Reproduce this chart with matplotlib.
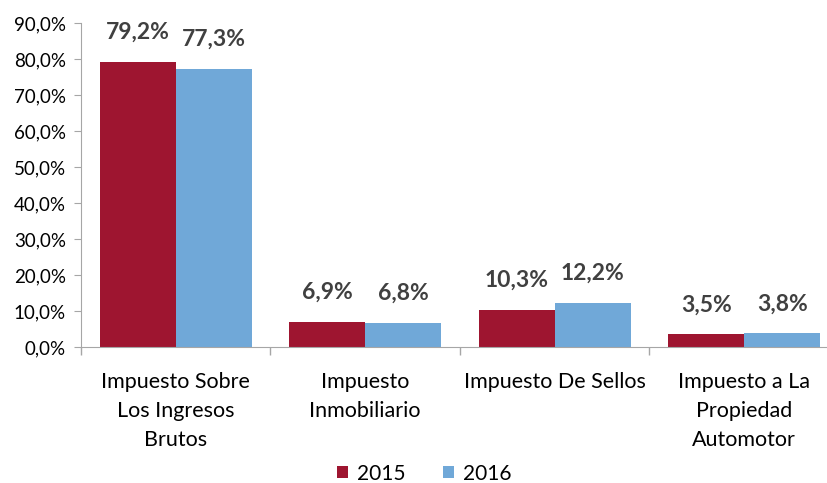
import matplotlib
matplotlib.use("Agg")
import matplotlib.pyplot as plt
import numpy as np
from matplotlib.ticker import FuncFormatter

categories = ["Impuesto Sobre\nLos Ingresos\nBrutos", "Impuesto\nInmobiliario",
              "Impuesto De Sellos", "Impuesto a La\nPropiedad\nAutomotor"]
series_names = ["2015", "2016"]
values_2015 = [79.2, 6.9, 10.3, 3.5]
values_2016 = [77.3, 6.8, 12.2, 3.8]
colors = ["#9E1530", "#70A8D8"]

plt.rcParams['font.family'] = ['Lato', 'DejaVu Sans']

fig = plt.figure(figsize=(8.28, 4.83), dpi=100)
ax = fig.add_axes([81/828, 136/483, (839-81)/828, 324/483])

x = np.arange(len(categories))
w = 0.40
b1 = ax.bar(x - w/2, values_2015, w, color=colors[0], label=series_names[0])
b2 = ax.bar(x + w/2, values_2016, w, color=colors[1], label=series_names[1])

for bars, vals in ((b1, values_2015), (b2, values_2016)):
    for r, v in zip(bars, vals):
        ax.text(r.get_x() + r.get_width()/2, v + 5.3, f"{v:.1f}%".replace('.', ','),
                ha='center', va='bottom', fontsize=16.5, fontweight='bold', color='#404040')

ax.set_xlim(-0.5, len(categories) - 0.5)
ax.set_ylim(0, 90)
ax.set_yticks(np.arange(0, 91, 10))
ax.yaxis.set_major_formatter(FuncFormatter(lambda v, p: f"{v:.1f}%".replace('.', ',')))

ax.set_xticks(np.arange(-0.5, len(categories), 1))
ax.set_xticklabels([])
ax.set_xticks(x, minor=True)
ax.set_xticklabels(categories, minor=True, linespacing=1.55)
ax.tick_params(axis='x', which='minor', length=0, pad=18, labelsize=15.5)
ax.tick_params(axis='x', which='major', length=6, color='#A6A6A6', width=1)
ax.tick_params(axis='y', length=5, color='#A6A6A6', labelsize=13.5, pad=6)

for s in ['top', 'right']:
    ax.spines[s].set_visible(False)
for s in ['left', 'bottom']:
    ax.spines[s].set_color('#A6A6A6')

leg = fig.legend(loc='lower center', bbox_to_anchor=(424/828, -0.04), ncol=2, frameon=False,
                 fontsize=15, handlelength=0.55, handleheight=0.55, columnspacing=1.8, handletextpad=0.4)

fig.savefig("out.png", dpi=100)
